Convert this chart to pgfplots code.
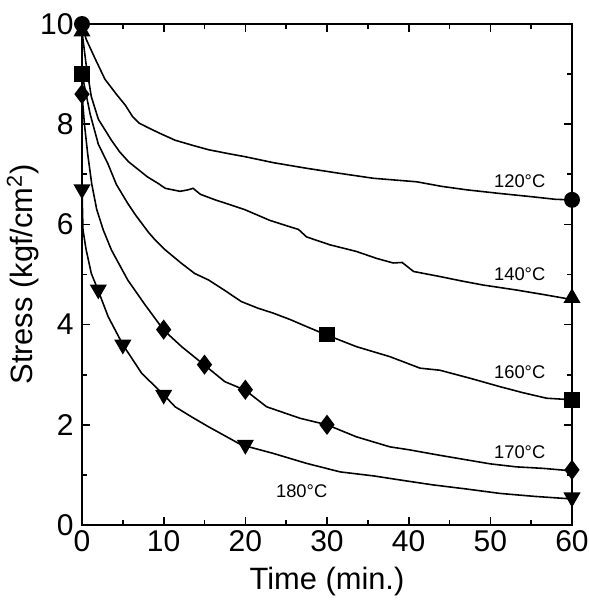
\documentclass[border=0pt]{standalone}
\usepackage{pgfplots}
\pgfplotsset{compat=1.18}
\usepackage{fontspec}
\setmainfont{Liberation Sans}

\begin{document}
\begin{tikzpicture}
\begin{axis}[
  name=ax,
  scale only axis, width=294pt, height=300.6pt,
  xmin=0, xmax=60, ymin=0, ymax=10,
  xtick={0,10,...,60}, ytick={0,2,...,10},
  minor xtick={5,15,...,55}, minor ytick={1,3,...,9},
  tick align=inside,
  major tick length=5pt, minor tick length=3pt,
  axis line style={line width=1.4pt},
  every tick/.style={line width=1pt, black},
  tick label style={font=\fontsize{18}{18}\selectfont},
  yticklabel style={xshift=-1.5pt},
  /pgf/number format/assume math mode=true,
  xlabel={Time (min.)}, ylabel={Stress (kgf/cm\textsuperscript{2})},
  label style={font=\fontsize{18.5}{19}\selectfont},
  xlabel style={yshift=-2pt}, ylabel style={yshift=-6pt},
  clip=false,
  every axis plot/.append style={line width=0.95pt, black},
]
% 120 C
\addplot[no marks] coordinates {(0,10)(0.5,9.7)(1.6,9.31)(2.8,8.9)(4.2,8.6)(5.3,8.38)(6.2,8.15)(7,8.02)(8.1,7.93)(9.5,7.82)(11.4,7.68)(13.5,7.58)(15.5,7.49)(18,7.41)(20,7.35)(23.5,7.23)(27.5,7.12)(31.5,7.02)(35.7,6.92)(41,6.85)(44,6.76)(47.1,6.69)(51,6.62)(55.2,6.55)(58,6.5)(60,6.49)};
% 140 C
\addplot[no marks] coordinates {(0,9.85)(0.5,9.2)(1.14,8.55)(2,8.1)(3.6,7.68)(4.6,7.45)(5.7,7.25)(8,6.95)(9.3,6.82)(10.2,6.72)(12,6.66)(13,6.69)(13.6,6.72)(14.5,6.6)(16.3,6.49)(18,6.4)(20,6.29)(23,6.08)(25.5,5.95)(26.5,5.9)(27.5,5.75)(30.4,5.59)(33.6,5.46)(36.1,5.32)(38.1,5.23)(39.2,5.24)(40.6,5.06)(43.8,4.96)(46.5,4.87)(49.1,4.79)(53.2,4.69)(56.5,4.6)(60,4.5)};
% 160 C
\addplot[no marks] coordinates {(0,9)(0.5,8.6)(1,8.2)(2,7.6)(3.2,7.2)(4.2,6.8)(5.6,6.42)(6.5,6.2)(8.1,5.85)(8.9,5.7)(10.2,5.49)(12.2,5.22)(13.8,5.02)(15.5,4.89)(17.5,4.68)(19.5,4.46)(21.5,4.33)(23.4,4.23)(25.5,4.1)(27.5,3.96)(30,3.79)(33.6,3.56)(37.7,3.36)(41.4,3.13)(43.8,3.09)(47.5,2.93)(51.2,2.76)(54,2.64)(56.9,2.53)(60,2.5)};
% 170 C
\addplot[no marks] coordinates {(0,8.6)(0.3,8.0)(0.7,7.4)(1.2,6.8)(1.8,6.3)(2.6,5.89)(3.6,5.49)(5.6,4.89)(7.7,4.4)(10,3.89)(12.2,3.56)(15,3.19)(17.5,2.86)(20,2.69)(22.6,2.36)(26.7,2.13)(30,2.0)(33.6,1.76)(37.7,1.56)(40.1,1.5)(43.5,1.4)(47.1,1.3)(50,1.22)(53.2,1.16)(56.5,1.13)(60,1.08)};
% 180 C
\addplot[no marks] coordinates {(0,6.7)(0.12,5.89)(0.5,5.5)(1.14,5.02)(1.96,4.69)(3.2,4.16)(5,3.6)(7.3,3.03)(10,2.6)(11.4,2.36)(13.5,2.15)(15.5,1.96)(17.5,1.78)(19.5,1.6)(23.4,1.43)(27.5,1.23)(31.6,1.06)(35.7,0.98)(39.7,0.88)(43,0.8)(47,0.72)(51.2,0.63)(55.5,0.57)(60,0.52)};
% markers
\addplot[only marks, mark=*, mark size=4.3pt] coordinates {(0,10)(60,6.49)};
\addplot[only marks, mark=triangle*, mark size=5pt] coordinates {(0,9.85)(60,4.53)};
\addplot[only marks, mark=square*, mark size=4.2pt] coordinates {(0,9.0)(30,3.8)(60,2.5)};
\addplot[only marks, mark=diamond*, mark size=5.3pt] coordinates {(0,8.6)(10,3.9)(15,3.2)(20,2.7)(30,2.0)(60,1.1)};
\addplot[only marks, mark=triangle*, mark size=5pt, mark options={rotate=180}] coordinates {(0,6.7)(2,4.7)(5,3.6)(10,2.6)(20,1.6)(60,0.55)};
% labels
\begin{scope}[every node/.style={font=\fontsize{11}{11}\selectfont}]
\node at (axis cs:53.6,6.87) {120°C};
\node at (axis cs:53.6,5.0) {140°C};
\node at (axis cs:53.6,3.05) {160°C};
\node at (axis cs:53.6,1.45) {170°C};
\node at (axis cs:26.9,0.68) {180°C};
\end{scope}
\end{axis}
\pgfresetboundingbox
\useasboundingbox ([xshift=-49.2pt,yshift=-45pt]ax.south west) rectangle ([xshift=10.2pt,yshift=14.4pt]ax.north east);
\end{tikzpicture}
\end{document}
